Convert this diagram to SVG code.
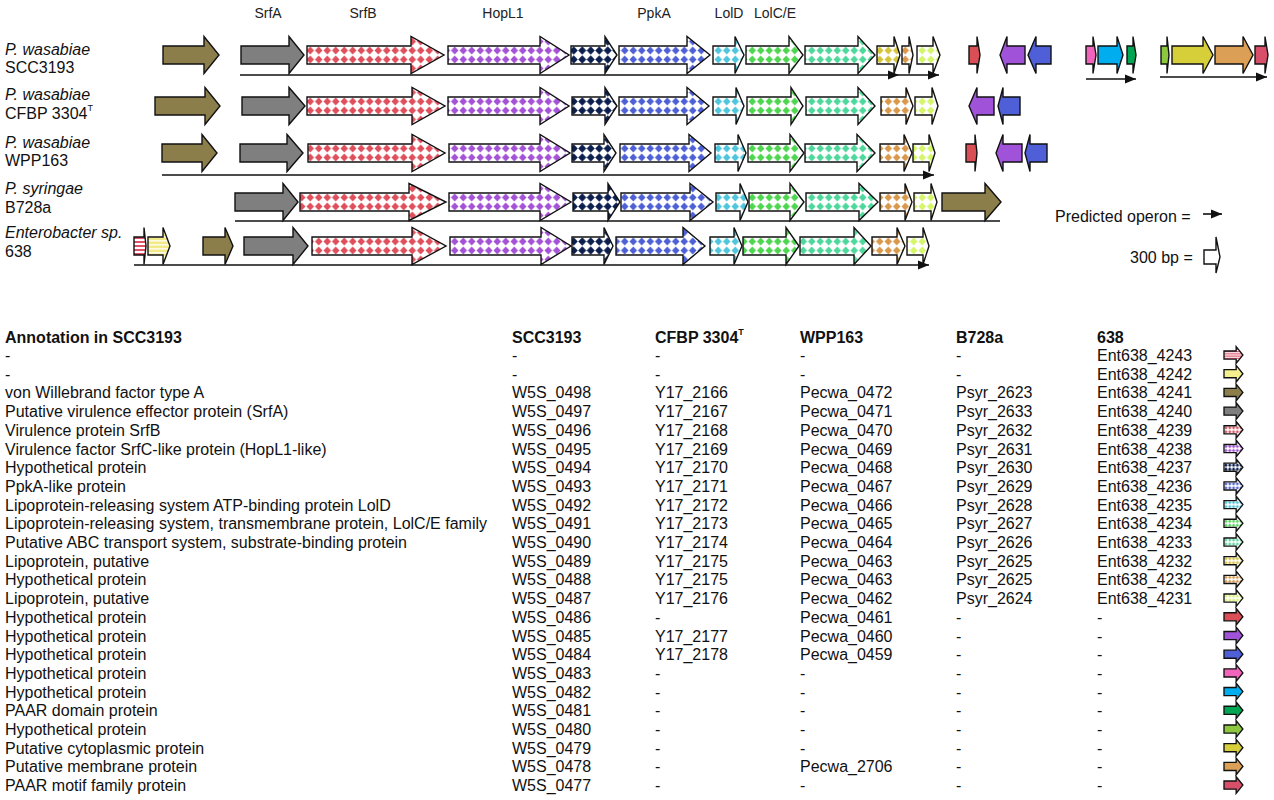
<svg xmlns="http://www.w3.org/2000/svg" width="1274" height="800" viewBox="0 0 1274 800">
<style>
text{font-family:"Liberation Sans",Arial,sans-serif;fill:#111}
.lab{font-size:16px}
.it{font-style:italic}
.gl{font-size:14px;text-anchor:middle;fill:#222}
.tb{font-size:16px}
.hd{font-size:16px;font-weight:bold}
.g{stroke:#111;stroke-width:1.4;stroke-linejoin:miter}
.ic{stroke:#111;stroke-width:3}
.op{stroke:#111;stroke-width:1.6;fill:none}
</style>
<defs>
<marker id="ah" markerUnits="userSpaceOnUse" markerWidth="12" markerHeight="10" refX="11" refY="5" orient="auto"><path d="M0,0.5 L11,5 L0,9.5Z" fill="#111"/></marker>
<pattern id="pRed" patternUnits="userSpaceOnUse" x="0" y="-9" width="8.5" height="9"><rect width="8.5" height="9" fill="#fff"/><path d="M4.25,0.4 L8,4.5 L4.25,8.6 L0.5,4.5Z" fill="#df4f5c"/></pattern>
<pattern id="pPur" patternUnits="userSpaceOnUse" x="0" y="-9" width="8.5" height="9"><rect width="8.5" height="9" fill="#fff"/><path d="M4.25,0.4 L8,4.5 L4.25,8.6 L0.5,4.5Z" fill="#a452d6"/></pattern>
<pattern id="pNav" patternUnits="userSpaceOnUse" x="0" y="-9" width="8.5" height="9"><rect width="8.5" height="9" fill="#fff"/><path d="M4.25,0.2 L8.3,4.5 L4.25,8.8 L0.2,4.5Z" fill="#0c1f4f"/></pattern>
<pattern id="pBlu" patternUnits="userSpaceOnUse" x="0" y="-9" width="8.5" height="9"><rect width="8.5" height="9" fill="#fff"/><path d="M4.25,0.4 L8,4.5 L4.25,8.6 L0.5,4.5Z" fill="#4d60d6"/></pattern>
<pattern id="pCya" patternUnits="userSpaceOnUse" x="0" y="-9" width="8.5" height="9"><rect width="8.5" height="9" fill="#fff"/><path d="M4.25,0.4 L8,4.5 L4.25,8.6 L0.5,4.5Z" fill="#4fc6dc"/></pattern>
<pattern id="pGrn" patternUnits="userSpaceOnUse" x="0" y="-9" width="8.5" height="9"><rect width="8.5" height="9" fill="#fff"/><path d="M4.25,0.4 L8,4.5 L4.25,8.6 L0.5,4.5Z" fill="#4fd651"/></pattern>
<pattern id="pTea" patternUnits="userSpaceOnUse" x="0" y="-9" width="8.5" height="9"><rect width="8.5" height="9" fill="#fff"/><path d="M4.25,0.4 L8,4.5 L4.25,8.6 L0.5,4.5Z" fill="#4fd89c"/></pattern>
<pattern id="pYel" patternUnits="userSpaceOnUse" x="0" y="-9" width="8.5" height="9"><rect width="8.5" height="9" fill="#fff"/><path d="M4.25,0.4 L8,4.5 L4.25,8.6 L0.5,4.5Z" fill="#d6c43a"/></pattern>
<pattern id="pOra" patternUnits="userSpaceOnUse" x="0" y="-9" width="8.5" height="9"><rect width="8.5" height="9" fill="#fff"/><path d="M4.25,0.4 L8,4.5 L4.25,8.6 L0.5,4.5Z" fill="#d9994d"/></pattern>
<pattern id="pLim" patternUnits="userSpaceOnUse" x="0" y="-9" width="8.5" height="9"><rect width="8.5" height="9" fill="#fff"/><path d="M4.25,0.4 L8,4.5 L4.25,8.6 L0.5,4.5Z" fill="#d5f56a"/></pattern>
<pattern id="pStrR" patternUnits="userSpaceOnUse" x="0" y="-9" width="10" height="4"><rect width="10" height="4" fill="#fff"/><rect y="0" width="10" height="2" fill="#e0506a"/></pattern>
<pattern id="pStrY" patternUnits="userSpaceOnUse" x="0" y="-9" width="10" height="4"><rect width="10" height="4" fill="#fff"/><rect y="0.5" width="10" height="2.7" fill="#f2ea86"/></pattern>
</defs>
<rect width="1274" height="800" fill="#fff"/>

<g id="gene-labels">
<text class="gl" x="268" y="18">SrfA</text>
<text class="gl" x="363" y="18">SrfB</text>
<text class="gl" x="503" y="18">HopL1</text>
<text class="gl" x="654" y="18">PpkA</text>
<text class="gl" x="729" y="18">LolD</text>
<text class="gl" x="775" y="18">LolC/E</text>
</g>

<g id="strain-labels">
<text class="lab it" x="5" y="55">P. wasabiae</text>
<text class="lab" x="5" y="73">SCC3193</text>
<text class="lab it" x="5" y="100">P. wasabiae</text>
<text class="lab" x="5" y="119">CFBP 3304<tspan font-size="9" dy="-8">T</tspan></text>
<text class="lab it" x="5" y="148">P. wasabiae</text>
<text class="lab" x="5" y="166">WPP163</text>
<text class="lab it" x="5" y="194">P. syringae</text>
<text class="lab" x="5" y="213">B728a</text>
<text class="lab it" x="5" y="238">Enterobacter sp.</text>
<text class="lab" x="5" y="257">638</text>
</g>

<g id="connectors">
<line class="op" x1="240" y1="75" x2="899" y2="75" marker-end="url(#ah)"/>
<line class="op" x1="899" y1="75" x2="939" y2="75" marker-end="url(#ah)"/>
<line class="op" x1="1086" y1="79" x2="1136" y2="79" marker-end="url(#ah)"/>
<line class="op" x1="1160" y1="77" x2="1267" y2="77" marker-end="url(#ah)"/>
<line class="op" x1="162" y1="175" x2="934" y2="175" marker-end="url(#ah)"/>
<line class="op" x1="235" y1="221" x2="1000" y2="221"/>
<line class="op" x1="134" y1="265" x2="929" y2="265" marker-end="url(#ah)"/>
<line class="op" x1="1203" y1="214" x2="1222" y2="214" marker-end="url(#ah)"/>
</g>

<g id="row-SCC3193" transform="translate(0,55)">
<path id="r1-olive" class="g" fill="#8c7e4b" d="M163,-9H204V-18.5L219,0L204,18.5V9H163Z"/>
<path id="r1-srfA" class="g" fill="#7f7f7f" d="M241,-9H289V-18.5L304,0L289,18.5V9H241Z"/>
<path id="r1-srfB" class="g" fill="url(#pRed)" d="M307,-9H411V-18.5L444,0L411,18.5V9H307Z"/>
<path id="r1-hopL1" class="g" fill="url(#pPur)" d="M448,-9H540V-18.5L569,0L540,18.5V9H448Z"/>
<path id="r1-hyp" class="g" fill="url(#pNav)" d="M571,-9H605V-18.5L617,0L605,18.5V9H571Z"/>
<path id="r1-ppkA" class="g" fill="url(#pBlu)" d="M619,-9H687V-18.5L710,0L687,18.5V9H619Z"/>
<path id="r1-lolD" class="g" fill="url(#pCya)" d="M713,-9H735V-18.5L744,0L735,18.5V9H713Z"/>
<path id="r1-lolCE" class="g" fill="url(#pGrn)" d="M746,-9H789V-18.5L803,0L789,18.5V9H746Z"/>
<path id="r1-abc" class="g" fill="url(#pTea)" d="M805,-9H858V-18.5L875,0L858,18.5V9H805Z"/>
<path id="r1-lipo" class="g" fill="url(#pYel)" d="M877,-9H894V-18.5L900,0L894,18.5V9H877Z"/>
<path id="r1-hyp2" class="g" fill="url(#pOra)" d="M902,-9H909V-18.5L913,0L909,18.5V9H902Z"/>
<path id="r1-lipo2" class="g" fill="url(#pLim)" d="M917,-9H933V-18.5L940,0L933,18.5V9H917Z"/>
<path id="r1-0486" class="g" fill="#da4f55" d="M969,-9H977V-18.5L980,0L977,18.5V9H969Z"/>
<path id="r1-0485" class="g" fill="#a052d8" d="M1025,-9H1007V-18.5L1000,0L1007,18.5V9H1025Z"/>
<path id="r1-0484" class="g" fill="#4f5fd8" d="M1051,-9H1036V-18.5L1028,0L1036,18.5V9H1051Z"/>
<path id="r1-0483" class="g" fill="#f064bc" d="M1086,-9H1093V-18.5L1096,0L1093,18.5V9H1086Z"/>
<path id="r1-0482" class="g" fill="#00adef" d="M1098,-9H1117V-18.5L1123,0L1117,18.5V9H1098Z"/>
<path id="r1-0481" class="g" fill="#00a651" d="M1127,-9H1133V-18.5L1136,0L1133,18.5V9H1127Z"/>
<path id="r1-0480" class="g" fill="#8dc63f" d="M1161,-9H1167V-18.5L1169,0L1167,18.5V9H1161Z"/>
<path id="r1-0479" class="g" fill="#d7cf3a" d="M1172,-9H1203V-18.5L1213,0L1203,18.5V9H1172Z"/>
<path id="r1-0478" class="g" fill="#dba055" d="M1215,-9H1243V-18.5L1253,0L1243,18.5V9H1215Z"/>
<path id="r1-0477" class="g" fill="#d84f6a" d="M1255,-9H1265V-18.5L1268,0L1265,18.5V9H1255Z"/>
</g>

<g id="row-CFBP3304" transform="translate(0,106)">
<path id="r2-olive" class="g" fill="#8c7e4b" d="M155,-9H205V-18.5L220,0L205,18.5V9H155Z"/>
<path id="r2-srfA" class="g" fill="#7f7f7f" d="M242,-9H289V-18.5L305,0L289,18.5V9H242Z"/>
<path id="r2-srfB" class="g" fill="url(#pRed)" d="M307,-9H412V-18.5L445,0L412,18.5V9H307Z"/>
<path id="r2-hopL1" class="g" fill="url(#pPur)" d="M448,-9H540V-18.5L569,0L540,18.5V9H448Z"/>
<path id="r2-hyp" class="g" fill="url(#pNav)" d="M572,-9H605V-18.5L617,0L605,18.5V9H572Z"/>
<path id="r2-ppkA" class="g" fill="url(#pBlu)" d="M619,-9H687V-18.5L709,0L687,18.5V9H619Z"/>
<path id="r2-lolD" class="g" fill="url(#pCya)" d="M713,-9H736V-18.5L744,0L736,18.5V9H713Z"/>
<path id="r2-lolCE" class="g" fill="url(#pGrn)" d="M747,-9H791V-18.5L803,0L791,18.5V9H747Z"/>
<path id="r2-abc" class="g" fill="url(#pTea)" d="M806,-9H858V-18.5L875,0L858,18.5V9H806Z"/>
<path id="r2-hyp2" class="g" fill="url(#pOra)" d="M881,-9H906V-18.5L913,0L906,18.5V9H881Z"/>
<path id="r2-lipo2" class="g" fill="url(#pLim)" d="M915,-9H932V-18.5L938,0L932,18.5V9H915Z"/>
<path id="r2-2177" class="g" fill="#a052d8" d="M994,-9H977V-18.5L969,0L977,18.5V9H994Z"/>
<path id="r2-2178" class="g" fill="#4f5fd8" d="M1020,-9H1003V-18.5L998,0L1003,18.5V9H1020Z"/>
</g>

<g id="row-WPP163" transform="translate(0,153)">
<path id="r3-olive" class="g" fill="#8c7e4b" d="M162,-9H202V-18.5L217,0L202,18.5V9H162Z"/>
<path id="r3-srfA" class="g" fill="#7f7f7f" d="M240,-9H287V-18.5L303,0L287,18.5V9H240Z"/>
<path id="r3-srfB" class="g" fill="url(#pRed)" d="M308,-9H412V-18.5L445,0L412,18.5V9H308Z"/>
<path id="r3-hopL1" class="g" fill="url(#pPur)" d="M449,-9H540V-18.5L570,0L540,18.5V9H449Z"/>
<path id="r3-hyp" class="g" fill="url(#pNav)" d="M572,-9H604V-18.5L616,0L604,18.5V9H572Z"/>
<path id="r3-ppkA" class="g" fill="url(#pBlu)" d="M620,-9H689V-18.5L711,0L689,18.5V9H620Z"/>
<path id="r3-lolD" class="g" fill="url(#pCya)" d="M715,-9H738V-18.5L746,0L738,18.5V9H715Z"/>
<path id="r3-lolCE" class="g" fill="url(#pGrn)" d="M748,-9H790V-18.5L804,0L790,18.5V9H748Z"/>
<path id="r3-abc" class="g" fill="url(#pTea)" d="M805,-9H857V-18.5L875,0L857,18.5V9H805Z"/>
<path id="r3-hyp2" class="g" fill="url(#pOra)" d="M880,-9H904V-18.5L912,0L904,18.5V9H880Z"/>
<path id="r3-lipo2" class="g" fill="url(#pLim)" d="M913,-9H929V-18.5L935,0L929,18.5V9H913Z"/>
<path id="r3-0461" class="g" fill="#da4f55" d="M966,-9H975V-18.5L977,0L975,18.5V9H966Z"/>
<path id="r3-0460" class="g" fill="#a052d8" d="M1022,-9H1003V-18.5L996,0L1003,18.5V9H1022Z"/>
<path id="r3-0459" class="g" fill="#4f5fd8" d="M1047,-9H1030V-18.5L1025,0L1030,18.5V9H1047Z"/>
</g>

<g id="row-B728a" transform="translate(0,202)">
<path id="r4-srfA" class="g" fill="#7f7f7f" d="M235,-9H283V-18.5L298,0L283,18.5V9H235Z"/>
<path id="r4-srfB" class="g" fill="url(#pRed)" d="M300,-9H409V-18.5L446,0L409,18.5V9H300Z"/>
<path id="r4-hopL1" class="g" fill="url(#pPur)" d="M449,-9H540V-18.5L571,0L540,18.5V9H449Z"/>
<path id="r4-hyp" class="g" fill="url(#pNav)" d="M573,-9H608V-18.5L620,0L608,18.5V9H573Z"/>
<path id="r4-ppkA" class="g" fill="url(#pBlu)" d="M621,-9H690V-18.5L713,0L690,18.5V9H621Z"/>
<path id="r4-lolD" class="g" fill="url(#pCya)" d="M716,-9H740V-18.5L748,0L740,18.5V9H716Z"/>
<path id="r4-lolCE" class="g" fill="url(#pGrn)" d="M749,-9H790V-18.5L804,0L790,18.5V9H749Z"/>
<path id="r4-abc" class="g" fill="url(#pTea)" d="M806,-9H859V-18.5L878,0L859,18.5V9H806Z"/>
<path id="r4-hyp2" class="g" fill="url(#pOra)" d="M880,-9H905V-18.5L912,0L905,18.5V9H880Z"/>
<path id="r4-lipo2" class="g" fill="url(#pLim)" d="M914,-9H931V-18.5L937,0L931,18.5V9H914Z"/>
<path id="r4-olive" class="g" fill="#8c7e4b" d="M942,-9H985V-18.5L1001,0L985,18.5V9H942Z"/>
</g>

<g id="row-638" transform="translate(0,246)">
<path id="r5-4243" class="g" fill="url(#pStrR)" d="M134,-9H144V-18.5L146,0L144,18.5V9H134Z"/>
<path id="r5-4242" class="g" fill="url(#pStrY)" d="M148,-9H163V-18.5L170,0L163,18.5V9H148Z"/>
<path id="r5-olive" class="g" fill="#8c7e4b" d="M203,-9H225V-18.5L233,0L225,18.5V9H203Z"/>
<path id="r5-srfA" class="g" fill="#7f7f7f" d="M244,-9H293V-18.5L308,0L293,18.5V9H244Z"/>
<path id="r5-srfB" class="g" fill="url(#pRed)" d="M312,-9H412V-18.5L446,0L412,18.5V9H312Z"/>
<path id="r5-hopL1" class="g" fill="url(#pPur)" d="M450,-9H541V-18.5L571,0L541,18.5V9H450Z"/>
<path id="r5-hyp" class="g" fill="url(#pNav)" d="M572,-9H604V-18.5L613,0L604,18.5V9H572Z"/>
<path id="r5-ppkA" class="g" fill="url(#pBlu)" d="M616,-9H683V-18.5L705,0L683,18.5V9H616Z"/>
<path id="r5-lolD" class="g" fill="url(#pCya)" d="M710,-9H734V-18.5L742,0L734,18.5V9H710Z"/>
<path id="r5-lolCE" class="g" fill="url(#pGrn)" d="M743,-9H786V-18.5L799,0L786,18.5V9H743Z"/>
<path id="r5-abc" class="g" fill="url(#pTea)" d="M800,-9H854V-18.5L871,0L854,18.5V9H800Z"/>
<path id="r5-hyp2" class="g" fill="url(#pOra)" d="M872,-9H897V-18.5L905,0L897,18.5V9H872Z"/>
<path id="r5-lipo2" class="g" fill="url(#pLim)" d="M907,-9H923V-18.5L929,0L923,18.5V9H907Z"/>
</g>

<g id="legend">
<text class="lab" x="1055" y="222">Predicted operon =</text>
<text class="lab" x="1130" y="263">300 bp =</text>
<path class="g" fill="#fff" transform="translate(0,257)" d="M1204,-7H1216V-20L1220,0L1216,16V7H1204Z"/>
</g>

<g id="table">
<text class="hd" y="342.5"><tspan x="5">Annotation in SCC3193</tspan><tspan x="512">SCC3193</tspan><tspan x="655">CFBP 3304</tspan><tspan font-size="9" dy="-8">T</tspan><tspan x="800" dy="8">WPP163</tspan><tspan x="956">B728a</tspan><tspan x="1097">638</tspan></text>
<text class="tb" y="361"><tspan x="5">-</tspan><tspan x="512">-</tspan><tspan x="655">-</tspan><tspan x="800">-</tspan><tspan x="956">-</tspan><tspan x="1097">Ent638_4243</tspan></text>
<text class="tb" y="379.7"><tspan x="5">-</tspan><tspan x="512">-</tspan><tspan x="655">-</tspan><tspan x="800">-</tspan><tspan x="956">-</tspan><tspan x="1097">Ent638_4242</tspan></text>
<text class="tb" y="398.4"><tspan x="5">von Willebrand factor type A</tspan><tspan x="512">W5S_0498</tspan><tspan x="655">Y17_2166</tspan><tspan x="800">Pecwa_0472</tspan><tspan x="956">Psyr_2623</tspan><tspan x="1097">Ent638_4241</tspan></text>
<text class="tb" y="417.1"><tspan x="5">Putative virulence effector protein (SrfA)</tspan><tspan x="512">W5S_0497</tspan><tspan x="655">Y17_2167</tspan><tspan x="800">Pecwa_0471</tspan><tspan x="956">Psyr_2633</tspan><tspan x="1097">Ent638_4240</tspan></text>
<text class="tb" y="435.8"><tspan x="5">Virulence protein SrfB</tspan><tspan x="512">W5S_0496</tspan><tspan x="655">Y17_2168</tspan><tspan x="800">Pecwa_0470</tspan><tspan x="956">Psyr_2632</tspan><tspan x="1097">Ent638_4239</tspan></text>
<text class="tb" y="454.5"><tspan x="5">Virulence factor SrfC-like protein (HopL1-like)</tspan><tspan x="512">W5S_0495</tspan><tspan x="655">Y17_2169</tspan><tspan x="800">Pecwa_0469</tspan><tspan x="956">Psyr_2631</tspan><tspan x="1097">Ent638_4238</tspan></text>
<text class="tb" y="473.2"><tspan x="5">Hypothetical protein</tspan><tspan x="512">W5S_0494</tspan><tspan x="655">Y17_2170</tspan><tspan x="800">Pecwa_0468</tspan><tspan x="956">Psyr_2630</tspan><tspan x="1097">Ent638_4237</tspan></text>
<text class="tb" y="491.9"><tspan x="5">PpkA-like protein</tspan><tspan x="512">W5S_0493</tspan><tspan x="655">Y17_2171</tspan><tspan x="800">Pecwa_0467</tspan><tspan x="956">Psyr_2629</tspan><tspan x="1097">Ent638_4236</tspan></text>
<text class="tb" y="510.6"><tspan x="5">Lipoprotein-releasing system ATP-binding protein LolD</tspan><tspan x="512">W5S_0492</tspan><tspan x="655">Y17_2172</tspan><tspan x="800">Pecwa_0466</tspan><tspan x="956">Psyr_2628</tspan><tspan x="1097">Ent638_4235</tspan></text>
<text class="tb" y="529.3"><tspan x="5">Lipoprotein-releasing system, transmembrane protein, LolC/E family</tspan><tspan x="512">W5S_0491</tspan><tspan x="655">Y17_2173</tspan><tspan x="800">Pecwa_0465</tspan><tspan x="956">Psyr_2627</tspan><tspan x="1097">Ent638_4234</tspan></text>
<text class="tb" y="548"><tspan x="5">Putative ABC transport system, substrate-binding protein</tspan><tspan x="512">W5S_0490</tspan><tspan x="655">Y17_2174</tspan><tspan x="800">Pecwa_0464</tspan><tspan x="956">Psyr_2626</tspan><tspan x="1097">Ent638_4233</tspan></text>
<text class="tb" y="566.7"><tspan x="5">Lipoprotein, putative</tspan><tspan x="512">W5S_0489</tspan><tspan x="655">Y17_2175</tspan><tspan x="800">Pecwa_0463</tspan><tspan x="956">Psyr_2625</tspan><tspan x="1097">Ent638_4232</tspan></text>
<text class="tb" y="585.4"><tspan x="5">Hypothetical protein</tspan><tspan x="512">W5S_0488</tspan><tspan x="655">Y17_2175</tspan><tspan x="800">Pecwa_0463</tspan><tspan x="956">Psyr_2625</tspan><tspan x="1097">Ent638_4232</tspan></text>
<text class="tb" y="604.1"><tspan x="5">Lipoprotein, putative</tspan><tspan x="512">W5S_0487</tspan><tspan x="655">Y17_2176</tspan><tspan x="800">Pecwa_0462</tspan><tspan x="956">Psyr_2624</tspan><tspan x="1097">Ent638_4231</tspan></text>
<text class="tb" y="622.8"><tspan x="5">Hypothetical protein</tspan><tspan x="512">W5S_0486</tspan><tspan x="655">-</tspan><tspan x="800">Pecwa_0461</tspan><tspan x="956">-</tspan><tspan x="1097">-</tspan></text>
<text class="tb" y="641.5"><tspan x="5">Hypothetical protein</tspan><tspan x="512">W5S_0485</tspan><tspan x="655">Y17_2177</tspan><tspan x="800">Pecwa_0460</tspan><tspan x="956">-</tspan><tspan x="1097">-</tspan></text>
<text class="tb" y="660.2"><tspan x="5">Hypothetical protein</tspan><tspan x="512">W5S_0484</tspan><tspan x="655">Y17_2178</tspan><tspan x="800">Pecwa_0459</tspan><tspan x="956">-</tspan><tspan x="1097">-</tspan></text>
<text class="tb" y="678.9"><tspan x="5">Hypothetical protein</tspan><tspan x="512">W5S_0483</tspan><tspan x="655">-</tspan><tspan x="800">-</tspan><tspan x="956">-</tspan><tspan x="1097">-</tspan></text>
<text class="tb" y="697.6"><tspan x="5">Hypothetical protein</tspan><tspan x="512">W5S_0482</tspan><tspan x="655">-</tspan><tspan x="800">-</tspan><tspan x="956">-</tspan><tspan x="1097">-</tspan></text>
<text class="tb" y="716.3"><tspan x="5">PAAR domain protein</tspan><tspan x="512">W5S_0481</tspan><tspan x="655">-</tspan><tspan x="800">-</tspan><tspan x="956">-</tspan><tspan x="1097">-</tspan></text>
<text class="tb" y="735"><tspan x="5">Hypothetical protein</tspan><tspan x="512">W5S_0480</tspan><tspan x="655">-</tspan><tspan x="800">-</tspan><tspan x="956">-</tspan><tspan x="1097">-</tspan></text>
<text class="tb" y="753.7"><tspan x="5">Putative cytoplasmic protein</tspan><tspan x="512">W5S_0479</tspan><tspan x="655">-</tspan><tspan x="800">-</tspan><tspan x="956">-</tspan><tspan x="1097">-</tspan></text>
<text class="tb" y="772.4"><tspan x="5">Putative membrane protein</tspan><tspan x="512">W5S_0478</tspan><tspan x="655">-</tspan><tspan x="800">Pecwa_2706</tspan><tspan x="956">-</tspan><tspan x="1097">-</tspan></text>
<text class="tb" y="791.1"><tspan x="5">PAAR motif family protein</tspan><tspan x="512">W5S_0477</tspan><tspan x="655">-</tspan><tspan x="800">-</tspan><tspan x="956">-</tspan><tspan x="1097">-</tspan></text>
</g>

<g id="table-icons">
<path class="ic" fill="url(#pStrR)" transform="translate(1224,355) scale(0.45)" d="M0,-9H27V-18.5L42,0L27,18.5V9H0Z"/>
<path class="ic" fill="#f5ef8e" transform="translate(1224,373.7) scale(0.45)" d="M0,-9H27V-18.5L42,0L27,18.5V9H0Z"/>
<path class="ic" fill="#8c7e4b" transform="translate(1224,392.4) scale(0.45)" d="M0,-9H27V-18.5L42,0L27,18.5V9H0Z"/>
<path class="ic" fill="#7f7f7f" transform="translate(1224,411.1) scale(0.45)" d="M0,-9H27V-18.5L42,0L27,18.5V9H0Z"/>
<path class="ic" fill="url(#pRed)" transform="translate(1224,429.8) scale(0.45)" d="M0,-9H27V-18.5L42,0L27,18.5V9H0Z"/>
<path class="ic" fill="url(#pPur)" transform="translate(1224,448.5) scale(0.45)" d="M0,-9H27V-18.5L42,0L27,18.5V9H0Z"/>
<path class="ic" fill="url(#pNav)" transform="translate(1224,467.2) scale(0.45)" d="M0,-9H27V-18.5L42,0L27,18.5V9H0Z"/>
<path class="ic" fill="url(#pBlu)" transform="translate(1224,485.9) scale(0.45)" d="M0,-9H27V-18.5L42,0L27,18.5V9H0Z"/>
<path class="ic" fill="url(#pCya)" transform="translate(1224,504.6) scale(0.45)" d="M0,-9H27V-18.5L42,0L27,18.5V9H0Z"/>
<path class="ic" fill="url(#pGrn)" transform="translate(1224,523.3) scale(0.45)" d="M0,-9H27V-18.5L42,0L27,18.5V9H0Z"/>
<path class="ic" fill="url(#pTea)" transform="translate(1224,542) scale(0.45)" d="M0,-9H27V-18.5L42,0L27,18.5V9H0Z"/>
<path class="ic" fill="url(#pYel)" transform="translate(1224,560.7) scale(0.45)" d="M0,-9H27V-18.5L42,0L27,18.5V9H0Z"/>
<path class="ic" fill="url(#pOra)" transform="translate(1224,579.4) scale(0.45)" d="M0,-9H27V-18.5L42,0L27,18.5V9H0Z"/>
<path class="ic" fill="url(#pLim)" transform="translate(1224,598.1) scale(0.45)" d="M0,-9H27V-18.5L42,0L27,18.5V9H0Z"/>
<path class="ic" fill="#da4f55" transform="translate(1224,616.8) scale(0.45)" d="M0,-9H27V-18.5L42,0L27,18.5V9H0Z"/>
<path class="ic" fill="#a052d8" transform="translate(1224,635.5) scale(0.45)" d="M0,-9H27V-18.5L42,0L27,18.5V9H0Z"/>
<path class="ic" fill="#4f5fd8" transform="translate(1224,654.2) scale(0.45)" d="M0,-9H27V-18.5L42,0L27,18.5V9H0Z"/>
<path class="ic" fill="#f064bc" transform="translate(1224,672.9) scale(0.45)" d="M0,-9H27V-18.5L42,0L27,18.5V9H0Z"/>
<path class="ic" fill="#00adef" transform="translate(1224,691.6) scale(0.45)" d="M0,-9H27V-18.5L42,0L27,18.5V9H0Z"/>
<path class="ic" fill="#00a651" transform="translate(1224,710.3) scale(0.45)" d="M0,-9H27V-18.5L42,0L27,18.5V9H0Z"/>
<path class="ic" fill="#8dc63f" transform="translate(1224,729) scale(0.45)" d="M0,-9H27V-18.5L42,0L27,18.5V9H0Z"/>
<path class="ic" fill="#d7cf3a" transform="translate(1224,747.7) scale(0.45)" d="M0,-9H27V-18.5L42,0L27,18.5V9H0Z"/>
<path class="ic" fill="#dba055" transform="translate(1224,766.4) scale(0.45)" d="M0,-9H27V-18.5L42,0L27,18.5V9H0Z"/>
<path class="ic" fill="#d84f6a" transform="translate(1224,785.1) scale(0.45)" d="M0,-9H27V-18.5L42,0L27,18.5V9H0Z"/>
</g>
</svg>
